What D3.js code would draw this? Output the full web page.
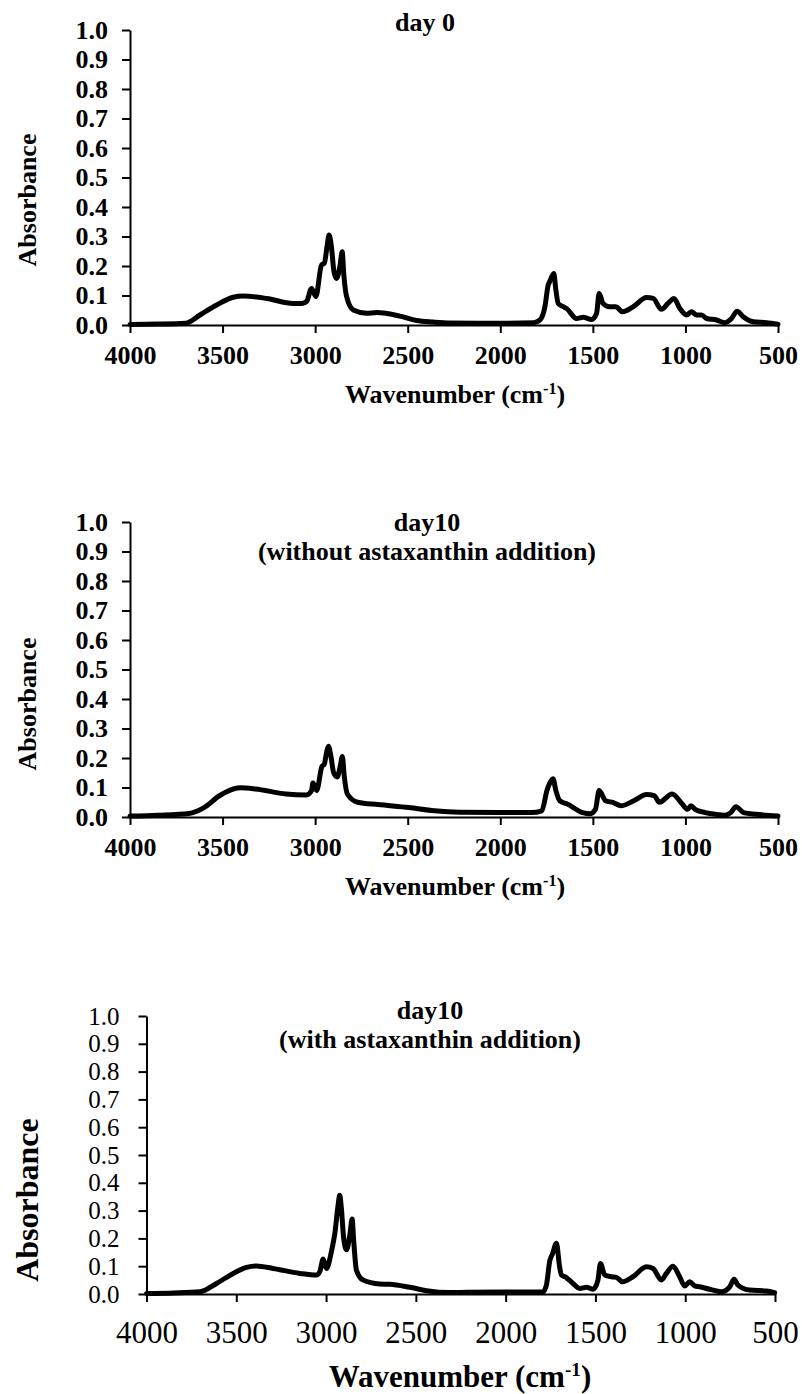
<!DOCTYPE html>
<meta charset="utf-8">
<head>
<title>FTIR spectra</title>
<style>
  body { margin: 0; background: #fff; }
  svg text { font-family: "Liberation Serif", "Times New Roman", serif; fill: #000; }
  .axis path, .axis line { stroke: #000; stroke-width: 2; }
  .spec { fill: none; stroke: #000; stroke-width: 5; stroke-linejoin: round; stroke-linecap: round; }
</style>
</head>
<body>
<svg width="802" height="1394"></svg>
<script src="https://d3js.org/d3.v7.min.js"></script>
<script>
// tick values
var xTicks = [4000, 3500, 3000, 2500, 2000, 1500, 1000, 500];
var yTicks = [0, 0.1, 0.2, 0.3, 0.4, 0.5, 0.6, 0.7, 0.8, 0.9, 1.0];

// day 0
var wn0 = [4000, 3850, 3700, 3622, 3532, 3442, 3390, 3262, 3118, 3070, 3046, 3019, 2996, 2966, 2950, 2935, 2925, 2913, 2898, 2884, 2866, 2854, 2845, 2830, 2794, 2722, 2668, 2542, 2452, 2362, 2272, 2000, 1820, 1786, 1759, 1741, 1734, 1711, 1700, 1687, 1660, 1642, 1588, 1552, 1507, 1480, 1466, 1445, 1409, 1376, 1340, 1282, 1210, 1174, 1130, 1094, 1062, 1030, 994, 967, 940, 913, 886, 832, 787, 751, 721, 688, 634, 562, 500];
var abs0 = [0.002, 0.003, 0.006, 0.034, 0.068, 0.094, 0.098, 0.09, 0.073, 0.073, 0.08, 0.124, 0.096, 0.203, 0.21, 0.27, 0.305, 0.27, 0.18, 0.158, 0.2, 0.248, 0.17, 0.096, 0.051, 0.04, 0.042, 0.03, 0.015, 0.01, 0.007, 0.006, 0.008, 0.017, 0.062, 0.136, 0.146, 0.175, 0.12, 0.073, 0.062, 0.056, 0.022, 0.026, 0.019, 0.039, 0.107, 0.073, 0.062, 0.062, 0.045, 0.062, 0.093, 0.09, 0.053, 0.073, 0.09, 0.056, 0.034, 0.045, 0.034, 0.034, 0.022, 0.017, 0.008, 0.022, 0.047, 0.028, 0.011, 0.008, 0.003];

// day 10 without astaxanthin
var wn10a = [4000, 3850, 3682, 3600, 3517, 3406, 3323, 3157, 3047, 3019, 3012, 2992, 2964, 2950, 2938, 2928, 2916, 2900, 2881, 2865, 2853, 2843, 2826, 2770, 2660, 2494, 2356, 2218, 2000, 1831, 1776, 1748, 1734, 1715, 1700, 1679, 1638, 1555, 1513, 1486, 1466, 1431, 1389, 1348, 1279, 1210, 1168, 1141, 1072, 1017, 989, 970, 948, 893, 838, 788, 755, 727, 686, 617, 500];
var abs10a = [0.003, 0.006, 0.012, 0.032, 0.072, 0.099, 0.095, 0.078, 0.075, 0.09, 0.115, 0.09, 0.17, 0.18, 0.22, 0.24, 0.21, 0.15, 0.136, 0.17, 0.205, 0.14, 0.078, 0.05, 0.042, 0.032, 0.021, 0.016, 0.015, 0.015, 0.021, 0.09, 0.113, 0.13, 0.09, 0.055, 0.044, 0.015, 0.011, 0.026, 0.09, 0.055, 0.049, 0.038, 0.055, 0.076, 0.072, 0.05, 0.078, 0.044, 0.026, 0.038, 0.026, 0.015, 0.009, 0.006, 0.015, 0.035, 0.015, 0.009, 0.003];

// day 10 with astaxanthin
var wn10b = [4000, 3850, 3703, 3610, 3517, 3443, 3388, 3295, 3146, 3053, 3035, 3016, 2998, 2970, 2951, 2933, 2924, 2915, 2902, 2886, 2866, 2855, 2846, 2831, 2794, 2701, 2645, 2534, 2441, 2311, 2218, 1792, 1773, 1754, 1739, 1717, 1700, 1689, 1662, 1625, 1587, 1550, 1513, 1486, 1472, 1448, 1411, 1383, 1350, 1291, 1216, 1179, 1133, 1105, 1068, 1031, 1003, 975, 947, 920, 864, 799, 752, 728, 706, 641, 548, 502];
var abs10b = [0.002, 0.004, 0.008, 0.038, 0.074, 0.096, 0.101, 0.092, 0.074, 0.068, 0.08, 0.126, 0.092, 0.153, 0.219, 0.32, 0.355, 0.31, 0.2, 0.159, 0.22, 0.27, 0.19, 0.086, 0.05, 0.036, 0.035, 0.024, 0.012, 0.005, 0.006, 0.008, 0.032, 0.12, 0.144, 0.183, 0.1, 0.068, 0.059, 0.038, 0.02, 0.024, 0.017, 0.05, 0.11, 0.068, 0.062, 0.06, 0.044, 0.062, 0.098, 0.092, 0.05, 0.074, 0.1, 0.062, 0.029, 0.044, 0.029, 0.026, 0.017, 0.008, 0.026, 0.053, 0.032, 0.014, 0.011, 0.005];

var svg = d3.select("svg");

function drawPanel(p, wn, ab) {
  var x = d3.scaleLinear().domain([4000, 500]).range([p.left, p.right]);
  var y = d3.scaleLinear().domain([0, 1]).range([p.bottom, p.top]);
  var g = svg.append("g");
  var wt = p.bold ? "bold" : "normal";

  var xa = g.append("g").attr("class", "axis")
    .attr("transform", "translate(0," + p.bottom + ")")
    .call(d3.axisBottom(x).tickValues(xTicks).tickSize(8).tickSizeOuter(0).tickPadding(p.xPad).tickFormat(d3.format("d")));
  xa.selectAll("text").style("font-size", p.xTick + "px").style("font-weight", wt);

  var ya = g.append("g").attr("class", "axis")
    .attr("transform", "translate(" + p.left + ",0)")
    .call(d3.axisLeft(y).tickValues(yTicks).tickSize(8).tickSizeOuter(0).tickPadding(p.yPad).tickFormat(d3.format(".1f")));
  ya.selectAll("text").style("font-size", p.yTick + "px").style("font-weight", wt);

  var line = d3.line()
    .x(function(d, i) { return x(wn[i]); })
    .y(function(d) { return y(d); })
    .curve(d3.curveMonotoneX);
  g.append("path").datum(ab).attr("class", "spec").attr("d", line);

  // chart title
  p.title.forEach(function(t, i) {
    g.append("text").attr("x", p.titleX).attr("y", p.titleY + i * 29)
      .attr("text-anchor", "middle").style("font-size", "26px").style("font-weight", "bold").text(t);
  });

  // axis titles
  var xt = g.append("text").attr("x", p.xtX).attr("y", p.xtY).attr("text-anchor", "middle")
    .style("font-size", p.axTitle + "px").style("font-weight", "bold");
  xt.append("tspan").text("Wavenumber (cm");
  xt.append("tspan").attr("dy", -p.axTitle * 0.35).style("font-size", (p.axTitle * 0.62) + "px").text("-1");
  xt.append("tspan").attr("dy", p.axTitle * 0.35).text(")");

  g.append("text").attr("transform", "translate(" + p.ytX + "," + p.ytY + ") rotate(-90)")
    .attr("text-anchor", "middle").style("font-size", p.yTitle + "px").style("font-weight", "bold")
    .text("Absorbance");
}

drawPanel({left: 130, right: 778, top: 30, bottom: 325, bold: true, xTick: 26, yTick: 26, xPad: 13, yPad: 14,
  title: ["day 0"], titleX: 425, titleY: 31, xtX: 455, xtY: 403, axTitle: 26, ytX: 36, ytY: 200, yTitle: 26}, wn0, abs0);

drawPanel({left: 130, right: 778, top: 522, bottom: 817, bold: true, xTick: 26, yTick: 26, xPad: 13, yPad: 14,
  title: ["day10", "(without astaxanthin addition)"], titleX: 427, titleY: 531, xtX: 455, xtY: 895, axTitle: 26, ytX: 36, ytY: 704, yTitle: 26}, wn10a, abs10a);

drawPanel({left: 146.5, right: 775, top: 1016, bottom: 1294, bold: false, xTick: 31, yTick: 25, xPad: 19, yPad: 19,
  title: ["day10", "(with astaxanthin addition)"], titleX: 430, titleY: 1019, xtX: 460, xtY: 1387, axTitle: 31, ytX: 38, ytY: 1200, yTitle: 32}, wn10b, abs10b);
</script>
</body>
